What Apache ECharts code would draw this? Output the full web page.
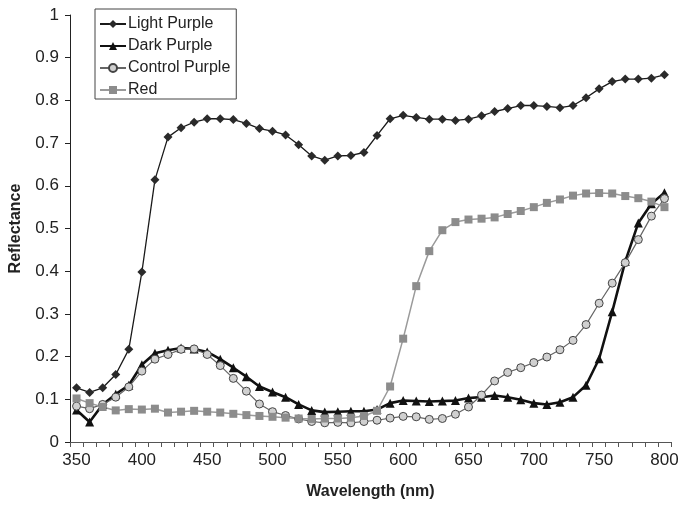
<!DOCTYPE html>
<html lang="en">
<head>
    <meta charset="utf-8">
    <title>Reflectance</title>
    <script src="https://cdn.jsdelivr.net/npm/echarts@6/dist/echarts.min.js"></script>
</head>
<body style="margin:0">
    <div id="main" style="width: 679px;height:507px;"></div>
<script type="text/javascript">
    // wavelength categories (nm)
    var wavelengths = [350, 360, 370, 380, 390, 400, 410, 420, 430, 440, 450, 460, 470, 480, 490,
        500, 510, 520, 530, 540, 550, 560, 570, 580, 590, 600, 610, 620, 630, 640,
        650, 660, 670, 680, 690, 700, 710, 720, 730, 740, 750, 760, 770, 780, 790, 800];

    var lightPurple = [0.127, 0.116, 0.127, 0.158, 0.217, 0.398, 0.614, 0.714, 0.736, 0.749, 0.757, 0.757, 0.755, 0.746, 0.734,
        0.728, 0.719, 0.696, 0.670, 0.660, 0.670, 0.671, 0.678, 0.718, 0.757, 0.765, 0.760, 0.756, 0.756, 0.753,
        0.756, 0.764, 0.774, 0.781, 0.788, 0.788, 0.786, 0.783, 0.788, 0.806, 0.827, 0.844, 0.850, 0.850, 0.852, 0.860];

    var darkPurple = [0.075, 0.047, 0.088, 0.112, 0.133, 0.181, 0.208, 0.215, 0.220, 0.218, 0.211, 0.194, 0.174, 0.153, 0.130,
        0.117, 0.105, 0.088, 0.074, 0.070, 0.071, 0.072, 0.072, 0.076, 0.091, 0.097, 0.096, 0.095, 0.096, 0.097,
        0.103, 0.105, 0.109, 0.105, 0.099, 0.091, 0.088, 0.093, 0.105, 0.133, 0.195, 0.305, 0.423, 0.513, 0.558, 0.584];

    var controlPurple = [0.084, 0.078, 0.088, 0.105, 0.129, 0.166, 0.194, 0.205, 0.217, 0.218, 0.205, 0.179, 0.149, 0.119, 0.089,
        0.071, 0.062, 0.054, 0.048, 0.045, 0.046, 0.045, 0.048, 0.051, 0.056, 0.060, 0.059, 0.053, 0.055, 0.065,
        0.082, 0.110, 0.143, 0.163, 0.174, 0.186, 0.199, 0.216, 0.238, 0.275, 0.325, 0.372, 0.420, 0.474, 0.529, 0.570];

    var red = [0.102, 0.091, 0.082, 0.074, 0.077, 0.076, 0.078, 0.069, 0.071, 0.073, 0.071, 0.069, 0.066, 0.063, 0.061,
        0.059, 0.057, 0.055, 0.054, 0.055, 0.055, 0.057, 0.061, 0.073, 0.130, 0.242, 0.365, 0.447, 0.496, 0.515,
        0.521, 0.523, 0.526, 0.534, 0.541, 0.550, 0.560, 0.568, 0.577, 0.582, 0.583, 0.582, 0.576, 0.571, 0.563, 0.550];

    var font = 'Arial, "Liberation Sans", sans-serif';

    var myChart = echarts.init(document.getElementById('main'));

    var option = {
        animation: false,
        backgroundColor: '#fff',
        grid: {
            left: 70,
            right: 8,
            top: 15,
            bottom: 65,
            outerBoundsMode: 'none'
        },
        legend: {
            orient: 'vertical',
            left: 95,
            top: 9,
            padding: [7, 6, 1, 4],
            itemGap: 6,
            itemWidth: 26,
            itemHeight: 10,
            borderColor: '#444',
            borderWidth: 1,
            borderRadius: 0,
            textStyle: { fontFamily: font, fontSize: 16, color: '#222', padding: [0, 0, 0, -3] },
            data: ['Light Purple', 'Dark Purple', 'Control Purple', 'Red']
        },
        xAxis: {
            type: 'category',
            data: wavelengths,
            boundaryGap: true,
            name: 'Wavelength (nm)',
            nameLocation: 'middle',
            nameGap: 42,
            nameTextStyle: { fontFamily: font, fontSize: 16, fontWeight: 'bold', color: '#222' },
            axisLine: { lineStyle: { color: '#555', width: 1 } },
            axisTick: { show: true, interval: 0, length: 5, lineStyle: { color: '#555' } },
            axisLabel: { interval: 4, margin: 10, fontFamily: font, fontSize: 17, color: '#222' },
            splitLine: { show: false }
        },
        yAxis: {
            type: 'value',
            min: 0,
            max: 1,
            interval: 0.1,
            name: 'Reflectance',
            nameLocation: 'middle',
            nameGap: 46,
            nameTextStyle: { fontFamily: font, fontSize: 16, fontWeight: 'bold', color: '#222' },
            axisLine: { show: true, lineStyle: { color: '#222', width: 1 } },
            axisTick: { show: true, length: 5, lineStyle: { color: '#222' } },
            axisLabel: { margin: 11, fontFamily: font, fontSize: 17, color: '#222' },
            splitLine: { show: false }
        },
        series: [
            {
                name: 'Light Purple',
                type: 'line',
                data: lightPurple,
                showAllSymbol: true,
                symbol: 'diamond',
                symbolSize: 9,
                lineStyle: { color: '#1a1a1a', width: 1.3 },
                itemStyle: { color: '#2a2a2a' }
            },
            {
                name: 'Dark Purple',
                type: 'line',
                data: darkPurple,
                showAllSymbol: true,
                symbol: 'triangle',
                symbolSize: 9,
                lineStyle: { color: '#111', width: 2.6 },
                itemStyle: { color: '#111' }
            },
            {
                name: 'Control Purple',
                type: 'line',
                data: controlPurple,
                showAllSymbol: true,
                symbol: 'circle',
                symbolSize: 8,
                lineStyle: { color: '#666', width: 1.2 },
                itemStyle: { color: '#d0d0d0', borderColor: '#444', borderWidth: 1 }
            },
            {
                name: 'Red',
                type: 'line',
                data: red,
                showAllSymbol: true,
                symbol: 'rect',
                symbolSize: 8,
                lineStyle: { color: '#9a9a9a', width: 1.5 },
                itemStyle: { color: '#8c8c8c' }
            }
        ]
    };

    myChart.setOption(option);
</script>
</body>
</html>
